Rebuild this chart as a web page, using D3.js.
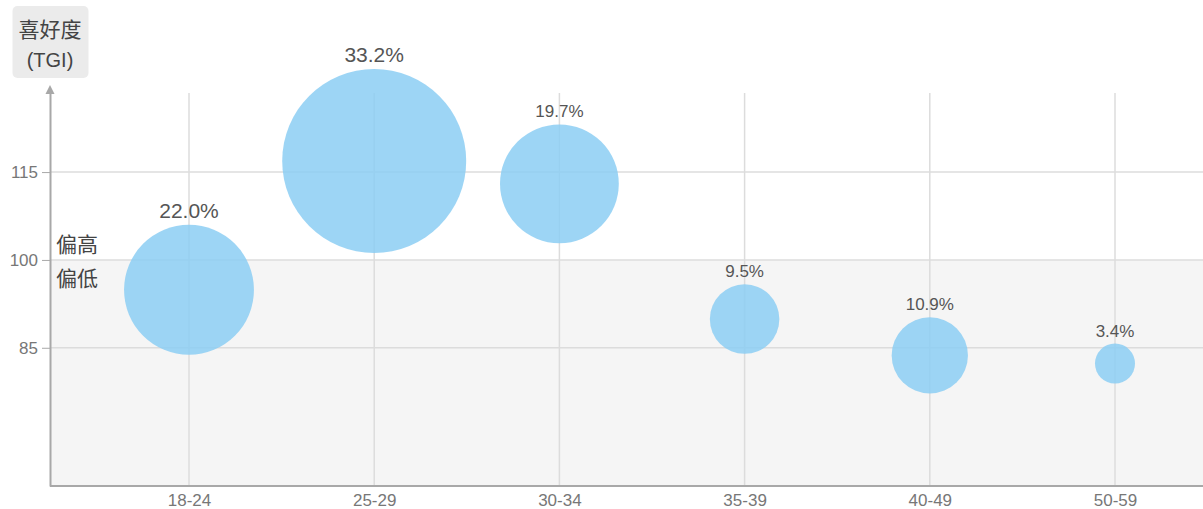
<!DOCTYPE html>
<html lang="zh">
<head>
<meta charset="UTF-8">
<title>喜好度 TGI 气泡图</title>
<script src="https://d3js.org/d3.v7.min.js"></script>
<style>
    body { margin: 0; background: #fff; }
    svg { display: block; font-family: "Liberation Sans", Arial, "Noto Sans CJK SC", sans-serif; }
    .grid line { stroke: #dcdcdc; stroke-width: 1.5; }
    .axis path, .axis line { stroke: #a8a8a8; }
    .axis text { fill: #777; font-size: 17px; }
    .bubble { fill: #8ccef3; fill-opacity: 0.85; }
    .share { fill: #555; text-anchor: middle; }
</style>
</head>
<body>
<svg width="1203" height="509"></svg>
<script>
    // 年龄段
    const ageGroups = ["18-24", "25-29", "30-34", "35-39", "40-49", "50-59"];
    // 喜好度 TGI
    const tgi = [94.9, 116.9, 113.0, 89.9, 83.7, 82.3];
    // 占比 (%)
    const share = [22.0, 33.2, 19.7, 9.5, 10.9, 3.4];
    // y 轴刻度
    const yTicks = [85, 100, 115];
    const yDomain = [61.4, 128.5];
    const baseline = 100;

    const svg = d3.select("svg"),
        margin = {top: 93, right: 0, bottom: 23, left: 50},
        width = +svg.attr("width") - margin.left - margin.right,
        height = +svg.attr("height") - margin.top - margin.bottom;

    const x = d3.scalePoint()
        .domain(ageGroups)
        .range([139, 1065]);

    const y = d3.scaleLinear()
        .domain(yDomain)
        .range([height, 0]);

    // bubble radius grows linearly with share
    const r = d3.scaleLinear()
        .domain([0, d3.max(share)])
        .range([11.8, 92]);

    const g = svg.append("g")
        .attr("transform", `translate(${margin.left},${margin.top})`);

    // shaded "below 100" zone
    g.append("rect")
        .attr("x", 0)
        .attr("y", y(baseline))
        .attr("width", width)
        .attr("height", height - y(baseline))
        .attr("fill", "#f5f5f5");

    // horizontal grid
    g.append("g")
        .attr("class", "grid")
        .selectAll("line")
        .data(yTicks)
        .join("line")
        .attr("x1", 0)
        .attr("x2", width)
        .attr("y1", d => y(d))
        .attr("y2", d => y(d));

    // vertical grid
    g.append("g")
        .attr("class", "grid")
        .selectAll("line")
        .data(ageGroups)
        .join("line")
        .attr("x1", d => x(d))
        .attr("x2", d => x(d))
        .attr("y1", 0)
        .attr("y2", height);

    // axes
    const yAxis = g.append("g")
        .attr("class", "axis")
        .call(d3.axisLeft(y).tickValues(yTicks).tickSize(8).tickPadding(4).tickSizeOuter(0));
    yAxis.select(".domain").attr("stroke-width", 2);

    const xAxis = g.append("g")
        .attr("class", "axis")
        .attr("transform", `translate(0,${height})`)
        .call(d3.axisBottom(x).tickSize(0).tickPadding(8).tickSizeOuter(0));
    xAxis.select(".domain").attr("stroke-width", 2).attr("d", `M0,0H${width}`);

    // arrow on top of the y axis
    g.append("path")
        .attr("d", "M0,-8L-4.5,1L4.5,1Z")
        .attr("fill", "#a8a8a8");

    // bubbles
    const pts = ageGroups.map((a, i) => ({age: a, tgi: tgi[i], share: share[i]}));
    const big = d3.sort(share, (a, b) => b - a)[1];

    g.append("g")
        .selectAll("circle")
        .data(pts)
        .join("circle")
        .attr("class", "bubble")
        .attr("cx", d => x(d.age))
        .attr("cy", d => y(d.tgi))
        .attr("r", d => r(d.share));

    g.append("g")
        .selectAll("text")
        .data(pts)
        .join("text")
        .attr("class", "share")
        .attr("x", d => x(d.age))
        .attr("y", d => y(d.tgi) - r(d.share) - 7)
        .style("font-size", d => d.share >= big ? "21px" : "17px")
        .text(d => d.share.toFixed(1) + "%");

    // 偏高 / 偏低
    g.append("text")
        .attr("x", 6)
        .attr("y", y(baseline) - 8)
        .attr("fill", "#444")
        .style("font-size", "21px")
        .style("font-family", "Noto Sans CJK SC")
        .text("偏高");
    g.append("text")
        .attr("x", 6)
        .attr("y", y(baseline) + 26)
        .attr("fill", "#444")
        .style("font-size", "21px")
        .style("font-family", "Noto Sans CJK SC")
        .text("偏低");

    // y axis title box
    const title = svg.append("g").attr("transform", "translate(50,0)");
    title.append("rect")
        .attr("x", -37.5)
        .attr("y", 6)
        .attr("width", 76)
        .attr("height", 72)
        .attr("rx", 5)
        .attr("fill", "#ebebeb");
    title.append("text")
        .attr("text-anchor", "middle")
        .attr("y", 37)
        .attr("fill", "#444")
        .style("font-size", "21px")
        .style("font-family", "Noto Sans CJK SC")
        .text("喜好度");
    title.append("text")
        .attr("text-anchor", "middle")
        .attr("y", 67)
        .attr("fill", "#444")
        .style("font-size", "20px")
        .text("(TGI)");
</script>
</body>
</html>
